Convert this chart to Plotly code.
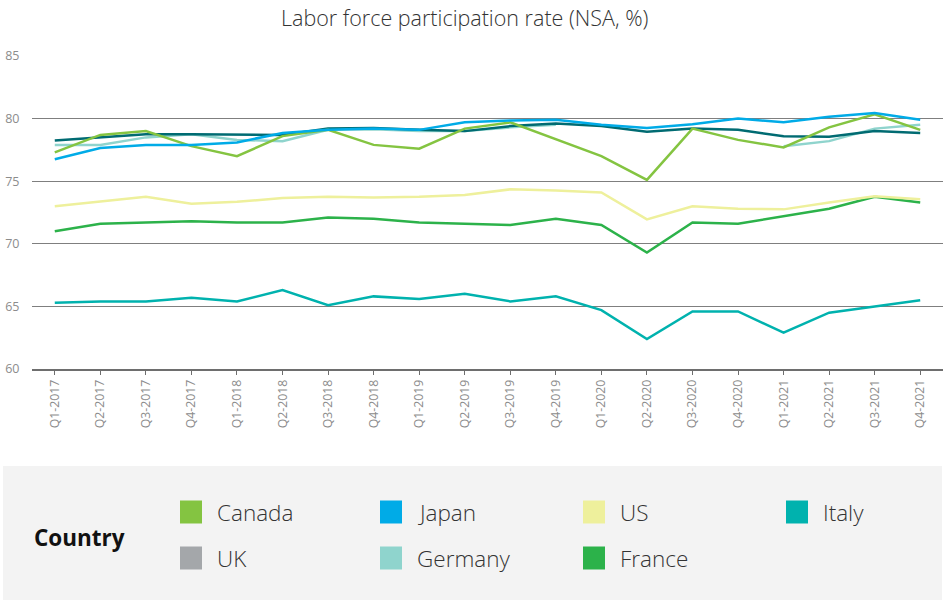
import plotly.graph_objects as go

quarters = ["Q1-2017", "Q2-2017", "Q3-2017", "Q4-2017", "Q1-2018", "Q2-2018", "Q3-2018", "Q4-2018",
            "Q1-2019", "Q2-2019", "Q3-2019", "Q4-2019", "Q1-2020", "Q2-2020", "Q3-2020", "Q4-2020",
            "Q1-2021", "Q2-2021", "Q3-2021", "Q4-2021"]

canada = [77.3, 78.7, 79.0, 77.8, 77.0, 78.6, 79.1, 77.9, 77.6, 79.2, 79.7, 78.35, 77.0, 75.1, 79.2, 78.3, 77.7, 79.3, 80.35, 79.1]
japan = [76.75, 77.65, 77.9, 77.9, 78.1, 78.85, 79.1, 79.2, 79.1, 79.7, 79.85, 79.9, 79.5, 79.25, 79.55, 80.0, 79.7, 80.15, 80.45, 79.9]
us = [73.0, 73.4, 73.75, 73.2, 73.35, 73.65, 73.75, 73.7, 73.75, 73.9, 74.35, 74.25, 74.1, 71.95, 73.0, 72.8, 72.75, 73.3, 73.8, 73.55]
italy = [65.3, 65.4, 65.4, 65.7, 65.4, 66.3, 65.1, 65.8, 65.6, 66.0, 65.4, 65.8, 64.7, 62.4, 64.6, 64.6, 62.9, 64.5, 65.0, 65.5]
uk = [78.25, 78.5, 78.75, 78.75, 78.7, 78.7, 79.2, 79.25, 79.1, 79.0, 79.4, 79.6, 79.4, 78.95, 79.2, 79.1, 78.6, 78.55, 79.0, 78.85]
germany = [77.9, 77.9, 78.5, 78.75, 78.3, 78.2, 79.1, 79.15, 79.0, 79.0, 79.3, 79.5, None, None, None, None, 77.8, 78.2, 79.2, 79.5]
france = [71.0, 71.6, 71.7, 71.8, 71.7, 71.7, 72.1, 72.0, 71.7, 71.6, 71.5, 72.0, 71.5, 69.3, 71.7, 71.6, 72.2, 72.8, 73.75, 73.3]

legend_names = ["Canada", "Japan", "US", "Italy", "UK", "Germany", "France"]
legend_colors = ["#84c441", "#00abe7", "#eef09c", "#00b2ae", "#a4a7aa", "#8fd4cd", "#2cb24a"]
uk_line_color = "#006b72"

series = {"Canada": canada, "Japan": japan, "US": us, "Italy": italy,
          "UK": uk, "Germany": germany, "France": france}
colors = dict(zip(legend_names, legend_colors))
colors["UK"] = uk_line_color

draw_order = ["Italy", "France", "US", "Germany", "UK", "Canada", "Japan"]

W, H = 947, 601
L, R, T, B = 32, 4, 56, 232
pw, ph = W - L - R, H - T - B


def px_x(x):
    return (x - L) / pw


def px_y(y):
    return (H - B - y) / ph


fig = go.Figure()
for name in draw_order:
    fig.add_trace(go.Scatter(x=quarters, y=series[name], mode="lines", name=name,
                             line=dict(color=colors[name], width=2.5),
                             connectgaps=False, showlegend=False))

shapes = []
annotations = []

# legend panel
shapes.append(dict(type="rect", xref="paper", yref="paper", layer="below",
                   x0=px_x(3), x1=px_x(942), y0=px_y(600), y1=px_y(466),
                   fillcolor="#f3f3f3", line=dict(width=0)))
annotations.append(dict(xref="paper", yref="paper", x=px_x(32), y=px_y(537), xanchor="left", yanchor="middle",
                        text="<b>Country</b>", showarrow=False,
                        font=dict(family="Open Sans", size=22.5, color="#111111")))
col_x = [180, 380, 583, 786]
row_y = [512, 558]
for i, (nm, col) in enumerate(zip(legend_names, legend_colors)):
    cx = col_x[i % 4]
    cy = row_y[i // 4]
    shapes.append(dict(type="rect", xref="paper", yref="paper",
                       x0=px_x(cx), x1=px_x(cx + 22), y0=px_y(cy + 11.5), y1=px_y(cy - 11.5),
                       fillcolor=col, line=dict(width=0)))
    annotations.append(dict(xref="paper", yref="paper", x=px_x(cx + 35), y=px_y(cy), xanchor="left",
                            yanchor="middle", text=nm, showarrow=False,
                            font=dict(family="Open Sans", size=22.5, color="#333333", weight=300)))

annotations.append(dict(xref="paper", yref="paper", x=px_x(464.5), y=px_y(18), xanchor="center", yanchor="middle",
                        text="Labor force participation rate (NSA, %)", showarrow=False,
                        font=dict(family="Open Sans", size=21.5, color="#333333", weight=300)))

fig.update_layout(
    width=W, height=H,
    margin=dict(l=L, r=R, t=T, b=B, pad=0),
    paper_bgcolor="white", plot_bgcolor="white",
    font=dict(family="Open Sans", color="#888888"),
    showlegend=False,
    shapes=shapes, annotations=annotations,
    xaxis=dict(type="category", range=[-0.5, 19.5], showgrid=False, zeroline=False,
               showline=True, linecolor="#6e6e6e", linewidth=1.5,
               ticks="outside", ticklen=4, tickcolor="#6e6e6e", tickwidth=1,
               tickangle=-90, tickfont=dict(size=12.3, color="#8c8c8c")),
    yaxis=dict(range=[60, 85], dtick=5, tick0=60, showgrid=True, gridcolor="#7f7f7f", gridwidth=1.3,
               zeroline=False, showline=False, ticks="outside", ticklen=9, tickcolor="rgba(0,0,0,0)",
               tickfont=dict(size=12.5, color="#8c8c8c")),
)

fig.write_html("out.html", config={"displayModeBar": False},
               post_script="document.body.style.margin='0px';document.body.style.padding='0px';")
